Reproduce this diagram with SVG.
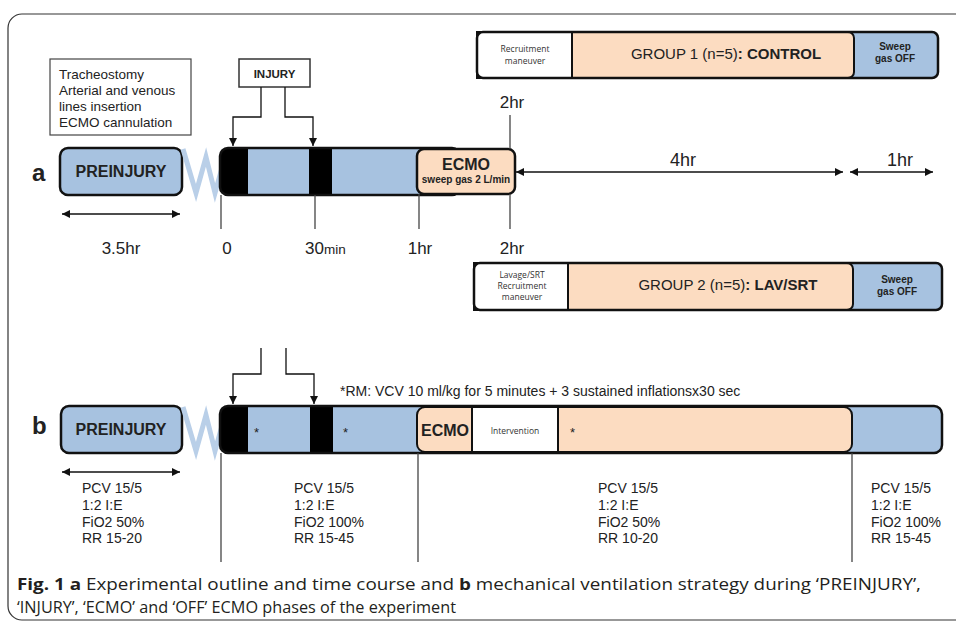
<svg xmlns="http://www.w3.org/2000/svg" width="956" height="626" viewBox="0 0 956 626">
<defs>
<marker id="ah" viewBox="0 0 10 10" refX="10" refY="5" markerWidth="8" markerHeight="8" markerUnits="userSpaceOnUse" orient="auto-start-reverse"><path d="M0,0 L10,5 L0,10 z" fill="#111"/></marker>
<style>
.t{font-family:"Liberation Sans",Arial,sans-serif;fill:#222}
.b{font-weight:bold}
.blue{fill:#a7c2e0}
.peach{fill:#fcdcc1}
.out{fill:none;stroke:#111;stroke-width:2.5}
.ln{fill:none;stroke:#444;stroke-width:1.3}
.ar{fill:none;stroke:#111;stroke-width:1.3}
.sq{fill:none;stroke:#b9cfe8;stroke-width:5;stroke-linejoin:miter}
.small{font-family:"Open Sans","Liberation Sans",sans-serif;fill:#333;font-size:8.5px}
.cap{font-family:"Open Sans","Liberation Sans",sans-serif;fill:#231f20;font-size:15.5px}
</style>
</defs>
<rect x="8" y="14" width="1000" height="606" rx="14" fill="#fff" stroke="#333" stroke-width="1.2"/>

<g id="label-a"><text class="t b" x="32" y="181" font-size="24">a</text></g>
<g id="label-b"><text class="t b" x="32" y="434" font-size="24">b</text></g>

<g id="procedures">
<rect x="50" y="59" width="141" height="76" fill="#fff" stroke="#444" stroke-width="1.2"/>
<text class="t" font-size="13.5"><tspan x="59" y="79">Tracheostomy</tspan><tspan x="59" y="95">Arterial and venous</tspan><tspan x="59" y="111">lines insertion</tspan><tspan x="59" y="127">ECMO cannulation</tspan></text>
</g>

<g id="injury-box">
<rect x="239" y="59" width="71" height="28" fill="#fff" stroke="#333" stroke-width="1.5"/>
<text class="t b" x="274.5" y="78" font-size="11.5" text-anchor="middle">INJURY</text>
</g>

<g id="preinjury-a">
<rect x="60" y="148" width="122" height="47" rx="8" class="blue" stroke="#111" stroke-width="2.5"/>
<text class="t b" x="121" y="177" font-size="16" text-anchor="middle">PREINJURY</text>
</g>
<g id="break-a"><polyline class="sq" points="183,149 196,193 206,157 215,193 222,168"/></g>

<g id="bar-a">
<rect x="220" y="148" width="240" height="47" rx="8" class="blue"/>
<path d="M228,148 H248 V195 H228 A8,8 0 0 1 220,187 V156 A8,8 0 0 1 228,148 z" fill="#000"/>
<rect x="309" y="148" width="23" height="47" fill="#000"/>
<rect x="220" y="148" width="240" height="47" rx="8" class="out"/>
</g>
<g id="ecmo-a">
<rect x="417" y="149" width="98" height="45" rx="7" class="peach" stroke="#111" stroke-width="2.5"/>
<text class="t b" x="466" y="170" font-size="16" text-anchor="middle">ECMO</text>
<text class="t b" x="466" y="183" font-size="10" text-anchor="middle">sweep gas 2 L/min</text>
</g>

<g id="group1">
<rect x="477" y="32" width="461" height="46" rx="6" class="blue"/>
<rect x="560" y="32" width="294" height="46" rx="6" class="peach" stroke="#111" stroke-width="2"/>
<rect x="477" y="32" width="95" height="46" fill="#fff" stroke="#111" stroke-width="2"/>
<rect x="477" y="32" width="461" height="46" rx="6" class="out"/>
<text class="small" text-anchor="middle"><tspan x="525" y="52">Recruitment</tspan><tspan x="525" y="64">maneuver</tspan></text>
<text class="t" x="726" y="59" font-size="15" text-anchor="middle">GROUP 1 (n=5)<tspan class="b">: CONTROL</tspan></text>
<text class="t b" font-size="10" text-anchor="middle"><tspan x="895" y="50">Sweep</tspan><tspan x="895" y="62">gas OFF</tspan></text>
</g>

<g id="group2">
<rect x="474" y="263" width="468" height="47" rx="6" class="blue"/>
<rect x="556" y="263" width="297" height="47" rx="6" class="peach" stroke="#111" stroke-width="2"/>
<rect x="474" y="263" width="94" height="47" fill="#fff" stroke="#111" stroke-width="2"/>
<rect x="474" y="263" width="468" height="47" rx="6" class="out"/>
<text class="small" text-anchor="middle"><tspan x="522" y="278">Lavage/SRT</tspan><tspan x="522" y="289">Recruitment</tspan><tspan x="522" y="300">maneuver</tspan></text>
<text class="t" x="728" y="290" font-size="15" text-anchor="middle">GROUP 2 (n=5)<tspan class="b">: LAV/SRT</tspan></text>
<text class="t b" font-size="10" text-anchor="middle"><tspan x="897" y="283">Sweep</tspan><tspan x="897" y="295">gas OFF</tspan></text>
</g>

<g id="preinjury-b">
<rect x="61" y="406" width="121" height="47" rx="8" class="blue" stroke="#111" stroke-width="2.5"/>
<text class="t b" x="121" y="435" font-size="16" text-anchor="middle">PREINJURY</text>
</g>
<g id="break-b"><polyline class="sq" points="183,407 196,451 206,415 215,451 222,426"/></g>

<g id="bar-b">
<rect x="220" y="406" width="722" height="47" rx="8" class="blue"/>
<path d="M228,406 H248 V453 H228 A8,8 0 0 1 220,445 V414 A8,8 0 0 1 228,406 z" fill="#000"/>
<rect x="310" y="406" width="23" height="47" fill="#000"/>
<rect x="417" y="407" width="435" height="45" rx="8" class="peach" stroke="#111" stroke-width="2"/>
<rect x="472" y="407" width="86" height="45" fill="#fff" stroke="#111" stroke-width="2"/>
<rect x="220" y="406" width="722" height="47" rx="8" class="out"/>
<text class="t" x="254" y="437" font-size="13">*</text>
<text class="t" x="343" y="437" font-size="13">*</text>
<text class="t b" x="445" y="436" font-size="16" text-anchor="middle">ECMO</text>
<text class="small" x="515" y="434" font-size="9" text-anchor="middle">Intervention</text>
<text class="t" x="570" y="437" font-size="13">*</text>
</g>

<g id="connectors">
<path class="ar" d="M261,87 V117 H233 V146" marker-end="url(#ah)"/>
<path class="ar" d="M285,87 V117 H313 V146" marker-end="url(#ah)"/>
<path class="ar" d="M261,348 V374 H233 V404" marker-end="url(#ah)"/>
<path class="ar" d="M286,348 V374 H314 V404" marker-end="url(#ah)"/>
<line class="ar" x1="62" y1="214" x2="180" y2="214" marker-start="url(#ah)" marker-end="url(#ah)"/>
<line class="ar" x1="62" y1="472" x2="180" y2="472" marker-start="url(#ah)" marker-end="url(#ah)"/>
<line class="ar" x1="516" y1="172" x2="843" y2="172" marker-start="url(#ah)" marker-end="url(#ah)"/>
<line class="ar" x1="850" y1="172" x2="933" y2="172" marker-start="url(#ah)" marker-end="url(#ah)"/>
<line class="ln" x1="221" y1="195" x2="221" y2="229"/>
<line class="ln" x1="315" y1="195" x2="315" y2="229"/>
<line class="ln" x1="419" y1="194" x2="419" y2="229"/>
<line class="ln" x1="510" y1="115" x2="510" y2="149"/>
<line class="ln" x1="510" y1="194" x2="510" y2="229"/>
<line class="ln" x1="221" y1="453" x2="221" y2="562"/>
<line class="ln" x1="418" y1="453" x2="418" y2="562"/>
<line class="ln" x1="852" y1="453" x2="852" y2="562"/>
</g>

<g id="time-labels">
<text class="t" x="121" y="254" font-size="17" text-anchor="middle">3.5hr</text>
<text class="t" x="227" y="254" font-size="17" text-anchor="middle">0</text>
<text class="t" x="305" y="254" font-size="17">30<tspan font-size="13.5">min</tspan></text>
<text class="t" x="420" y="254" font-size="17" text-anchor="middle">1hr</text>
<text class="t" x="512" y="254" font-size="17" text-anchor="middle">2hr</text>
<text class="t" x="512" y="108" font-size="17" text-anchor="middle">2hr</text>
<text class="t" x="683" y="166" font-size="18" text-anchor="middle">4hr</text>
<text class="t" x="900" y="166" font-size="18" text-anchor="middle">1hr</text>
</g>

<g id="rm-note"><text class="t" x="340" y="396" font-size="14">*RM: VCV 10 ml/kg for 5 minutes + 3 sustained inflationsx30 sec</text></g>

<g id="settings">
<text class="t" font-size="14"><tspan x="82" y="493">PCV 15/5</tspan><tspan x="82" y="510">1:2 I:E</tspan><tspan x="82" y="527">FiO2 50%</tspan><tspan x="82" y="543">RR 15-20</tspan></text>
<text class="t" font-size="14"><tspan x="294" y="493">PCV 15/5</tspan><tspan x="294" y="510">1:2 I:E</tspan><tspan x="294" y="527">FiO2 100%</tspan><tspan x="294" y="543">RR 15-45</tspan></text>
<text class="t" font-size="14"><tspan x="598" y="493">PCV 15/5</tspan><tspan x="598" y="510">1:2 I:E</tspan><tspan x="598" y="527">FiO2 50%</tspan><tspan x="598" y="543">RR 10-20</tspan></text>
<text class="t" font-size="14"><tspan x="871" y="493">PCV 15/5</tspan><tspan x="871" y="510">1:2 I:E</tspan><tspan x="871" y="527">FiO2 100%</tspan><tspan x="871" y="543">RR 15-45</tspan></text>
</g>

<g id="caption">
<text class="cap" x="17" y="590" textLength="904" lengthAdjust="spacingAndGlyphs"><tspan font-weight="bold">Fig. 1</tspan>  <tspan font-weight="bold">a</tspan> Experimental outline and time course and <tspan font-weight="bold">b</tspan> mechanical ventilation strategy during ‘PREINJURY’,</text>
<text class="cap" x="17" y="613" textLength="439" lengthAdjust="spacingAndGlyphs">‘INJURY’, ‘ECMO’ and ‘OFF’ ECMO phases of the experiment</text>
</g>
</svg>
